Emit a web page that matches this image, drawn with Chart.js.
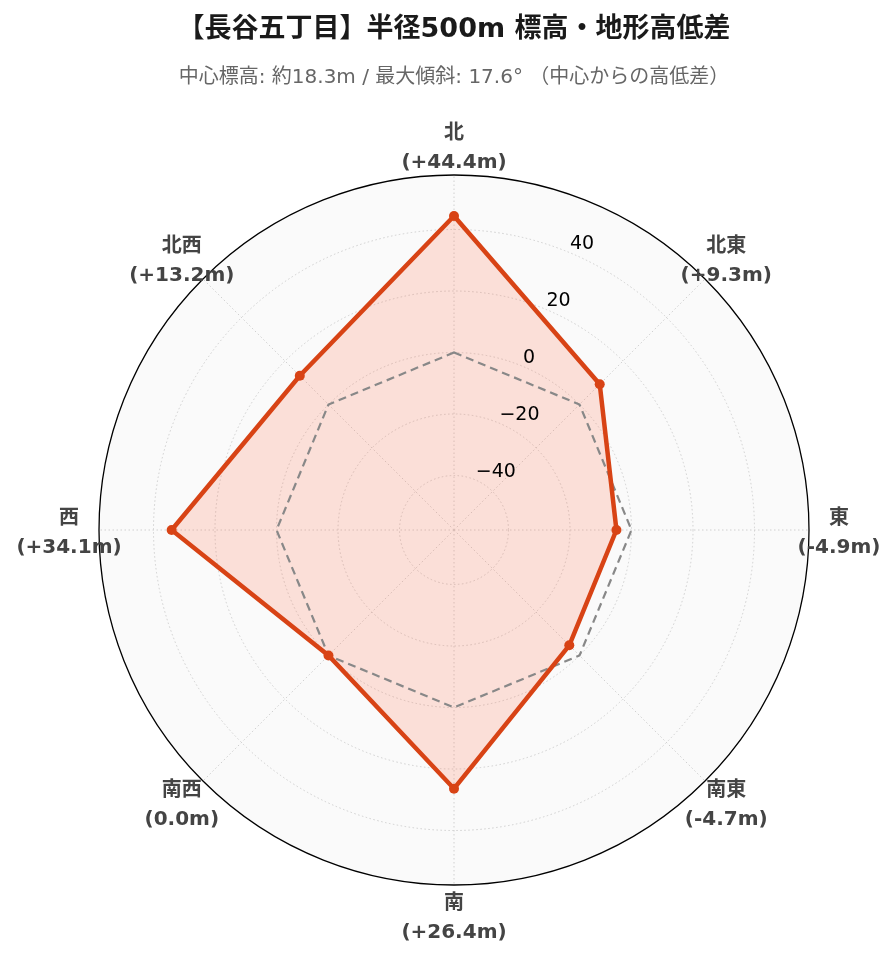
<!DOCTYPE html>
<html>
<head>
<meta charset="utf-8">
<script src="https://cdn.jsdelivr.net/npm/chart.js@4.4.1/dist/chart.umd.min.js"></script>
<style>
  html, body { margin: 0; padding: 0; background: #ffffff; }
  #wrap { width: 896px; height: 962px; position: relative; }
</style>
</head>
<body>
<div id="wrap"><canvas id="c" width="896" height="962"></canvas></div>
<script>
// ---- data ----
const directions = ['北', '北東', '東', '南東', '南', '南西', '西', '北西'];
const elevationDiff = [44.4, 9.3, -4.9, -4.7, 26.4, 0.0, 34.1, 13.2];
const diffLabels = ['(+44.4m)', '(+9.3m)', '(-4.9m)', '(-4.7m)', '(+26.4m)', '(0.0m)', '(+34.1m)', '(+13.2m)'];
const referenceZero = [0, 0, 0, 0, 0, 0, 0, 0];
const radialTicks = [-40, -20, 0, 20, 40];
const radialMin = -57.72;
const radialMax = 57.72;
const titleText = '【長谷五丁目】半径500m 標高・地形高低差';
const subtitleText = '中心標高: 約18.3m / 最大傾斜: 17.6° （中心からの高低差）';

const FONT = "'DejaVu Sans', 'Noto Sans CJK JP', sans-serif";

const decorPlugin = {
  id: 'decor',
  afterDraw(chart) {
    const s = chart.scales.r;
    const ctx = chart.ctx;
    ctx.save();
    // outer spine
    ctx.beginPath();
    ctx.arc(s.xCenter, s.yCenter, s.drawingArea, 0, Math.PI * 2);
    ctx.strokeStyle = '#000000';
    ctx.lineWidth = 1.3;
    ctx.stroke();
    // radial tick labels at 22.5 deg
    ctx.font = '19px ' + FONT;
    ctx.fillStyle = '#000000';
    ctx.textAlign = 'left';
    ctx.textBaseline = 'alphabetic';
    radialTicks.forEach(v => {
      const d = s.getDistanceFromCenterForValue(v);
      const p = s.getPointPosition(0.5, d);
      const txt = v < 0 ? '\u2212' + Math.abs(v) : String(v);
      ctx.fillText(txt, p.x + 1, p.y - 3);
    });
    // point labels
    ctx.font = 'bold 20px ' + FONT;
    ctx.fillStyle = '#444444';
    ctx.textAlign = 'center';
    ctx.textBaseline = 'middle';
    directions.forEach((name, i) => {
      const p = s.getPointPosition(i, s.drawingArea + 30);
      ctx.fillText(name, p.x, p.y - 11);
      ctx.fillText(diffLabels[i], p.x, p.y + 18);
    });
    ctx.restore();
  }
};

new Chart(document.getElementById('c'), {
  type: 'radar',
  data: {
    labels: directions,
    datasets: [
      {
        label: '高低差',
        data: elevationDiff,
        borderColor: '#D84315',
        backgroundColor: 'rgba(255,115,80,0.2)',
        borderWidth: 4.5,
        pointRadius: 5,
        pointBackgroundColor: '#D84315',
        pointBorderColor: '#D84315',
        pointBorderWidth: 0,
        fill: 'start',
        tension: 0
      },
      {
        label: '基準 (0m)',
        data: referenceZero,
        borderColor: '#888888',
        borderWidth: 2.2,
        borderDash: [8, 5],
        pointRadius: 0,
        fill: false,
        tension: 0
      }
    ]
  },
  options: {
    responsive: false,
    animation: false,
    devicePixelRatio: 1,
    layout: { padding: { left: 99, right: 87, top: 0, bottom: 76.5 } },
    plugins: {
      legend: { display: false },
      tooltip: { enabled: false },
      filler: { drawTime: 'beforeDatasetsDraw' },
      title: {
        display: true,
        text: titleText,
        color: '#1a1a1a',
        font: { family: FONT, size: 27, weight: 'bold', lineHeight: 1.2 },
        padding: { top: 13.4, bottom: 18 }
      },
      subtitle: {
        display: true,
        text: subtitleText,
        color: '#666666',
        font: { family: FONT, size: 20, weight: 'normal', lineHeight: 1.2 },
        padding: { top: 2.2, bottom: 85.5 }
      }
    },
    scales: {
      r: {
        min: radialMin,
        max: radialMax,
        startAngle: 0,
        backgroundColor: '#fafafa',
        afterBuildTicks(scale) {
          scale.ticks = radialTicks.map(v => ({ value: v }));
        },
        ticks: { display: false },
        pointLabels: { display: false },
        grid: { circular: true, color: '#d0d0d0', lineWidth: 1 },
        border: { dash: [1.5, 2.5] },
        angleLines: { display: true, color: '#d0d0d0', lineWidth: 1, borderDash: [1.5, 2.5] }
      }
    }
  },
  plugins: [decorPlugin]
});
</script>
</body>
</html>
